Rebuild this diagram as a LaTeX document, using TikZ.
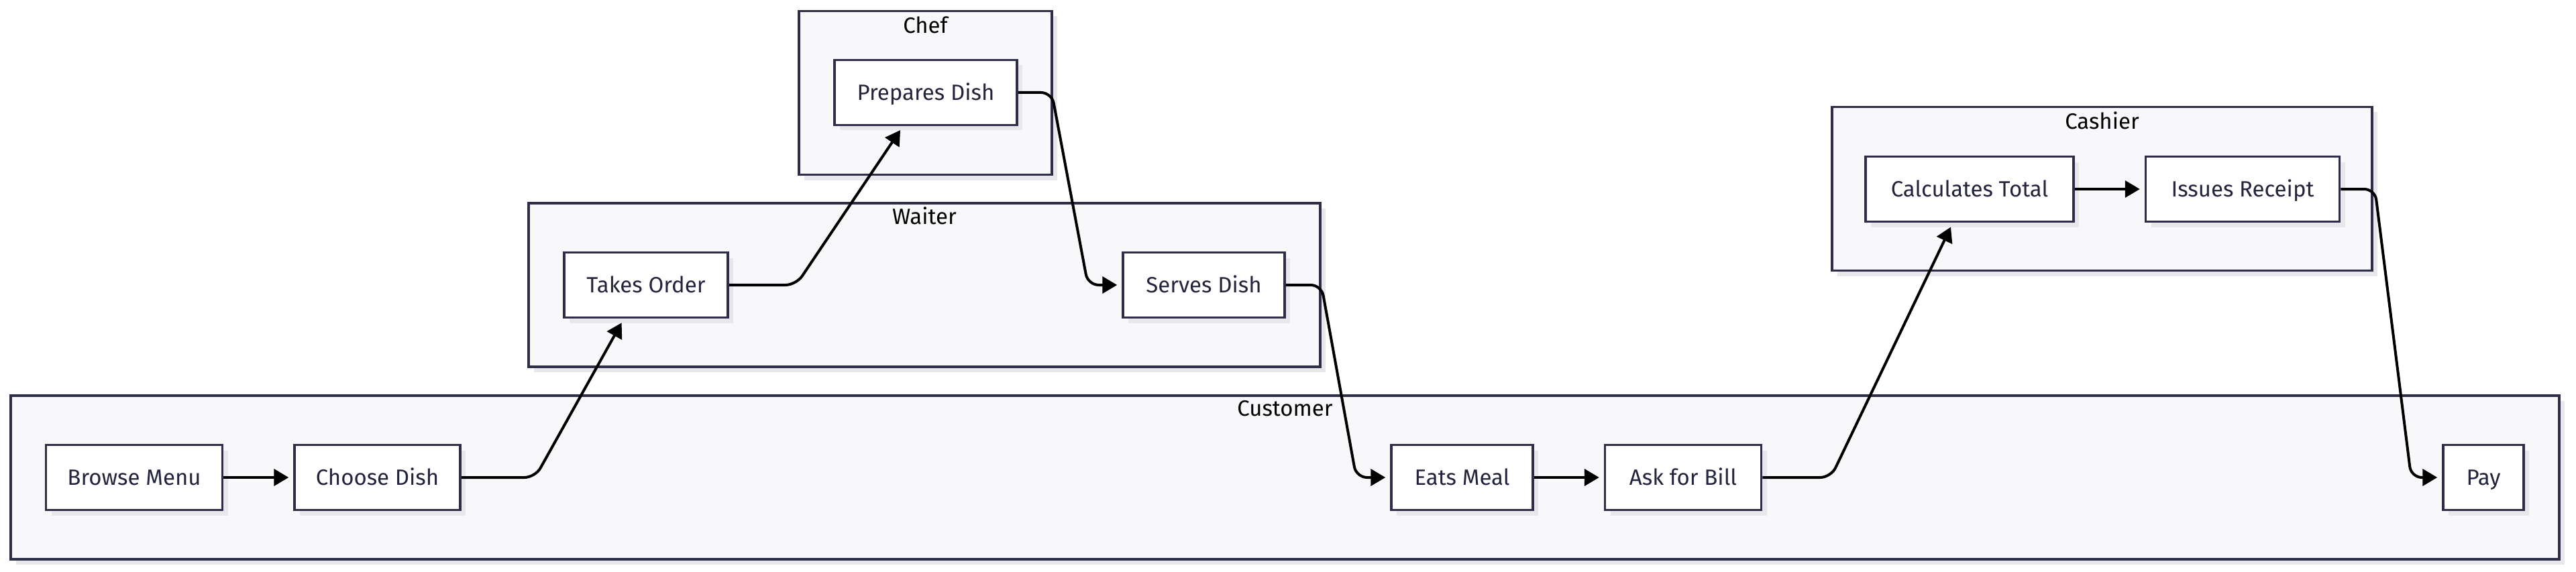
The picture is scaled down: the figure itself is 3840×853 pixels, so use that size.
\documentclass[tikz,border=0pt]{standalone}
\usepackage{fontspec}
\setmainfont{Fira Sans}
\usepackage{tikz}
\usetikzlibrary{arrows.meta, positioning, shadows}
\usepackage{xcolor}
\definecolor{nodeline}{HTML}{2E2E48}
\definecolor{lanefill}{HTML}{F8F8FA}
\definecolor{shadowgray}{HTML}{E8E8EC}
\definecolor{inkblue}{HTML}{24243C}
\tikzset{
  box/.style={
    rectangle, draw=nodeline, fill=white, line width=3.5pt,
    minimum height=97pt, inner xsep=0pt, text=inkblue,
    text height=23pt, text depth=0pt,
    font=\fontsize{33}{40}\selectfont,
    general shadow={fill=shadowgray, shadow xshift=8pt, shadow yshift=-8pt}
  },
  lane/.style={
    rectangle, draw=nodeline, fill=lanefill, line width=3.5pt,
    minimum height=244pt,
    general shadow={fill=shadowgray, shadow xshift=8pt, shadow yshift=-8pt}
  },
  lanetitle/.style={text=black, text height=23pt, text depth=0pt,
    font=\fontsize{33}{40}\selectfont},
  flow/.style={-{Triangle[length=22pt, width=25pt]}, line width=4pt,
    shorten >=7pt, rounded corners=16pt}
}

\begin{document}
\begin{tikzpicture}[x=1pt, y=-1pt]
    \useasboundingbox (0,0) rectangle (3840,853);

    % Lanes
    \node[lane, minimum width=3799pt] (customer) at (1915.5,712) {};
    \node[lane, minimum width=1180pt] (waiter) at (1378,425) {};
    \node[lane, minimum width=377pt] (chef) at (1379.5,138.5) {};
    \node[lane, minimum width=805pt] (cashier) at (3133.5,281.5) {};

    \node[lanetitle] (customert) at ([yshift=-21pt]customer.north) {Customer};
    \node[lanetitle] (waitert) at ([yshift=-22pt]waiter.north) {Waiter};
    \node[lanetitle] (cheft) at ([yshift=-23pt]chef.north) {Chef};
    \node[lanetitle] (cashiert) at ([yshift=-23pt]cashier.north) {Cashier};

    % Customer
    \node[box, minimum width=263pt] (browse) at (200,712) {Browse Menu};
    \node[box, minimum width=247pt, right=104pt of browse] (choose) {Choose Dish};
    \node[box, minimum width=211pt] (eats) at (2179.5,712) {Eats Meal};
    \node[box, minimum width=233pt, right=104pt of eats] (bill) {Ask for Bill};
    \node[box, minimum width=120pt] (pay) at (3702,712) {Pay};

    % Waiter, Chef, Cashier
    \node[box, minimum width=244pt] (takes) at (963,425) {Takes Order};
    \node[box, minimum width=241pt] (serves) at (1794.5,425) {Serves Dish};
    \node[box, minimum width=272pt] (prepares) at (1380,138) {Prepares Dish};
    \node[box, minimum width=310pt] (calc) at (2936,282) {Calculates Total};
    \node[box, minimum width=289pt, right=104pt of calc] (receipt) {Issues Receipt};

    % Flechas
    \draw[flow] (browse) -- (choose);
    \draw[flow] (choose.east) -- ++(110,0) -- ([xshift=-33pt]takes.south);
    \draw[flow] (takes.east) -- ++(100,0) -- ([xshift=-34pt]prepares.south);
    \draw[flow] (prepares.east) -- ++(50,0) -- ++(54,287) -- (serves.west);
    \draw[flow] (serves.east) -- ++(53,0) -- ++(52,287) -- (eats.west);
    \draw[flow] (eats) -- (bill);
    \draw[flow] (bill.east) -- ++(102,0) -- ([xshift=-25pt]calc.south);
    \draw[flow] (calc) -- (receipt);
    \draw[flow] (receipt.east) -- ++(51,0) -- ++(54,430) -- (pay.west);
  \end{tikzpicture}
\end{document}
